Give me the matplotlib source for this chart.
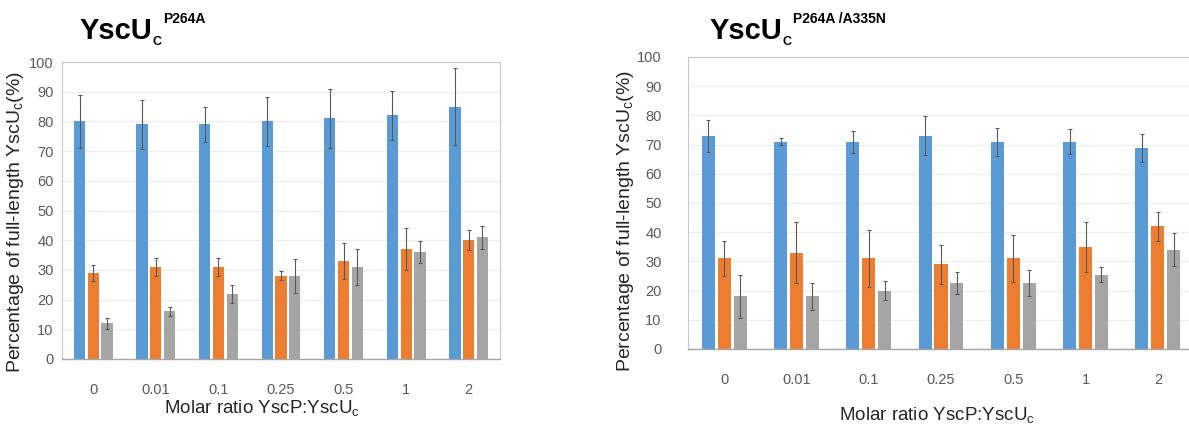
import matplotlib
matplotlib.use("Agg")
import matplotlib.pyplot as plt
import numpy as np

ratios = ["0", "0.01", "0.1", "0.25", "0.5", "1", "2"]

# left panel: YscUc P264A
p264a_blue = [80, 79, 79, 80, 81, 82, 85]
p264a_blue_err = [9, 8.3, 6, 8.3, 10, 8.3, 13]
p264a_orange = [29, 31, 31, 28, 33, 37, 40]
p264a_orange_err = [2.8, 3, 3, 1.5, 6, 7, 3.4]
p264a_gray = [12, 16, 22, 28, 31, 36, 41]
p264a_gray_err = [1.8, 1.4, 3, 5.7, 6, 3.7, 3.8]

# right panel: YscUc P264A/A335N
dbl_blue = [73, 71, 71, 73, 71, 71, 69]
dbl_blue_err = [5.4, 1.3, 3.8, 6.7, 4.8, 4.3, 4.8]
dbl_orange = [31, 33, 31, 29, 31, 35, 42]
dbl_orange_err = [6, 10.4, 9.7, 6.6, 8, 8.5, 5]
dbl_gray = [18, 18, 20, 22.5, 22.5, 25.5, 34]
dbl_gray_err = [7.4, 4.6, 3.3, 3.7, 4.5, 2.5, 5.7]

W, H = 1189, 428
colors = ["#5B9BD5", "#ED7D31", "#A5A5A5"]
tick_font = ["Liberation Sans Narrow", "Liberation Sans", "DejaVu Sans"]
plt.rcParams["font.family"] = ["Liberation Sans", "DejaVu Sans"]

fig = plt.figure(figsize=(W / 100, H / 100), dpi=100)

def px(x0, y0, x1, y1):
    # pixel box (top-left origin) -> figure fraction rect
    return [x0 / W, (H - y1) / H, (x1 - x0) / W, (y1 - y0) / H]

def panel(rect, series, errs, ylab_xy, xlab_xy, ytick_pad):
    ax = fig.add_axes(rect)
    x = np.arange(len(ratios))
    offs = [-0.22, 0, 0.22]
    for vals, err, c, o in zip(series, errs, colors, offs):
        ax.bar(x + o, vals, width=0.18, color=c, zorder=2)
        ax.errorbar(x + o, vals, yerr=err, fmt="none", ecolor="#595959",
                    elinewidth=0.8, capsize=1.5, capthick=0.8, zorder=3)
    ax.set_xlim(-0.5, len(ratios) - 0.5)
    ax.set_ylim(0, 100)
    ax.set_yticks(range(0, 101, 10))
    ax.set_xticks(x)
    ax.set_xticklabels(ratios)
    ax.tick_params(length=0, labelsize=10.5, labelcolor="#595959")
    ax.tick_params(axis="x", pad=17)
    ax.tick_params(axis="y", pad=ytick_pad)
    for lab in ax.get_xticklabels() + ax.get_yticklabels():
        lab.set_family(tick_font)
    ax.grid(axis="y", color="#ececec", linewidth=0.8, zorder=0)
    for s in ["top", "left", "right"]:
        ax.spines[s].set_color("#c8c8c8")
        ax.spines[s].set_linewidth(0.8)
    ax.spines["bottom"].set_color("#a6a6a6")
    ax.spines["bottom"].set_linewidth(1.0)
    ax.set_ylabel("Percentage of full-length YscU$_{\\mathregular{c}}$(%)",
                  fontsize=14, color="#262626")
    ax.yaxis.set_label_coords(*ylab_xy)
    ax.set_xlabel("Molar ratio YscP:YscU$_{\\mathregular{c}}$",
                  fontsize=13.5, color="#262626")
    ax.xaxis.set_label_coords(*xlab_xy)
    return ax

ax1 = panel(px(62, 62, 500, 359),
            [p264a_blue, p264a_orange, p264a_gray],
            [p264a_blue_err, p264a_orange_err, p264a_gray_err],
            (-0.083, 0.46), (0.457, -0.135), 6)
ax2 = panel(px(688, 57, 1194, 349),
            [dbl_blue, dbl_orange, dbl_gray],
            [dbl_blue_err, dbl_orange_err, dbl_gray_err],
            (-0.102, 0.44), (0.492, -0.195), 19)

def title(x, sup):
    r = fig.canvas.get_renderer()
    t = fig.text(x / W, (H - 39) / H, "YscU", fontsize=21, fontweight="bold",
                 va="baseline", ha="left")
    bb = t.get_window_extent(r)
    c = fig.text(bb.x1 / W, (H - 45) / H, "C", fontsize=9, fontweight="bold",
                 va="baseline", ha="left")
    bb2 = c.get_window_extent(r)
    fig.text(bb2.x1 / W + 1 / W, (H - 23) / H, sup, fontsize=10,
             fontweight="bold", va="baseline", ha="left")

title(80, "P264A")
title(710, "P264A /A335N")

plt.savefig("out.png", dpi=100)
